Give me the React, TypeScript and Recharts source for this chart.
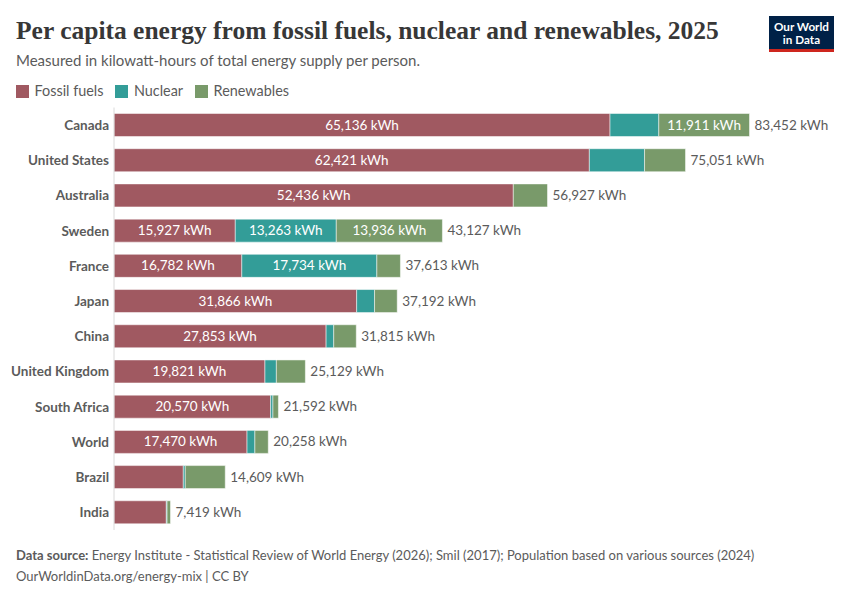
import { BarChart, Bar, XAxis, YAxis, LabelList } from 'recharts'

const countries = ['Canada', 'United States', 'Australia', 'Sweden', 'France', 'Japan', 'China', 'United Kingdom', 'South Africa', 'World', 'Brazil', 'India']
const fossil = [65136, 62421, 52436, 15927, 16782, 31866, 27853, 19821, 20570, 17470, 9100, 6870]
const nuclear = [6405, 7250, 0, 13263, 17734, 2350, 1000, 1500, 300, 1030, 260, 100]
const renewables = [11911, 5380, 4491, 13936, 3097, 2976, 2962, 3808, 722, 1758, 5249, 449]
const totals = [83452, 75051, 56927, 43127, 37613, 37192, 31815, 25129, 21592, 20258, 14609, 7419]

const COLORS = { fossil: '#883039', nuclear: '#00847e', renewables: '#578145' }
const LEGEND = [
  { name: 'Fossil fuels', color: COLORS.fossil },
  { name: 'Nuclear', color: COLORS.nuclear },
  { name: 'Renewables', color: COLORS.renewables },
]

const data = countries.map((country, i) => ({
  country,
  fossil: fossil[i],
  nuclear: nuclear[i],
  renewables: renewables[i],
  total: totals[i],
}))

const kwh = (v: number) => `${v.toLocaleString('en-US')} kWh`

// value label only where it fits inside the segment
function InsideLabel({ x, y, width, height, value }: any) {
  if (width < 85) return null
  return (
    <text x={x + width / 2} y={y + height / 2} dy={4.5} textAnchor="middle" fill="#fff" fontSize={13.5}>
      {kwh(value)}
    </text>
  )
}

function TotalLabel({ x, y, width, height, value }: any) {
  return (
    <text x={x + width + 5} y={y + height / 2} dy={4.5} fill="#5b5b5b" fontSize={13.5}>
      {kwh(value)}
    </text>
  )
}

function ChartLegend() {
  return (
    <div style={{ display: 'flex', fontSize: 14.4, color: '#5b5b5b', lineHeight: '16px' }}>
      {LEGEND.map((item) => (
        <div key={item.name} style={{ display: 'flex', alignItems: 'center', marginRight: 12 }}>
          <span style={{ width: 13, height: 13, marginRight: 5.5, background: item.color, opacity: 0.8 }} />
          {item.name}
        </div>
      ))}
    </div>
  )
}

export default function App() {
  return (
    <div style={{ position: 'absolute', left: 0, top: 0, width: 850, height: 600, background: '#fff', fontFamily: 'Lato', overflow: 'hidden' }}>
      <div style={{ position: 'absolute', left: 16, top: 16, fontFamily: '"Liberation Serif"', fontWeight: 700, fontSize: 25.5, color: '#373737', whiteSpace: 'nowrap' }}>
        Per capita energy from fossil fuels, nuclear and renewables, 2025
      </div>
      <div style={{ position: 'absolute', left: 16, top: 51, fontSize: 15, color: '#5b5b5b' }}>
        Measured in kilowatt-hours of total energy supply per person.
      </div>
      <div style={{ position: 'absolute', left: 769, top: 16, width: 65, height: 36, background: '#002147', borderBottom: '3px solid #ce261e', boxSizing: 'border-box', color: '#fff', fontWeight: 700, fontSize: 11.7, lineHeight: '12.5px', textAlign: 'center', paddingTop: 4 }}>
        Our World<br />in Data
      </div>
      <div style={{ position: 'absolute', left: 16, top: 83 }}>
        <ChartLegend />
      </div>

      <div style={{ position: 'absolute', left: 0, top: 0 }}>
        <BarChart
          width={850}
          height={600}
          data={data}
          layout="vertical"
          barSize={23}
          margin={{ top: 107.5, right: 100.5, bottom: 70, left: 0 }}
        >
          <XAxis type="number" hide domain={[0, 83452]} />
          <YAxis
            type="category"
            dataKey="country"
            width={114}
            interval={0}
            tickSize={0}
            tickMargin={5}
            axisLine={{ stroke: '#dadada' }}
            tickLine={false}
            tick={{ fill: '#5b5b5b', fontSize: 13.5, fontWeight: 700 }}
          />
          <Bar dataKey="fossil" stackId="a" fill={COLORS.fossil} fillOpacity={0.8} stroke="#fff" strokeWidth={0.5} isAnimationActive={false}>
            <LabelList dataKey="fossil" content={<InsideLabel />} />
          </Bar>
          <Bar dataKey="nuclear" stackId="a" fill={COLORS.nuclear} fillOpacity={0.8} stroke="#fff" strokeWidth={0.5} isAnimationActive={false}>
            <LabelList dataKey="nuclear" content={<InsideLabel />} />
          </Bar>
          <Bar dataKey="renewables" stackId="a" fill={COLORS.renewables} fillOpacity={0.8} stroke="#fff" strokeWidth={0.5} isAnimationActive={false}>
            <LabelList dataKey="renewables" content={<InsideLabel />} />
            <LabelList dataKey="total" content={<TotalLabel />} />
          </Bar>
        </BarChart>
      </div>

      <div style={{ position: 'absolute', left: 16, top: 547, fontSize: 13, color: '#5b5b5b', whiteSpace: 'nowrap' }}>
        <b>Data source:</b> Energy Institute - Statistical Review of World Energy (2026); Smil (2017); Population based on various sources (2024)
      </div>
      <div style={{ position: 'absolute', left: 16, top: 568, fontSize: 13, color: '#5b5b5b', whiteSpace: 'nowrap' }}>
        OurWorldinData.org/energy-mix | CC BY
      </div>
    </div>
  )
}
